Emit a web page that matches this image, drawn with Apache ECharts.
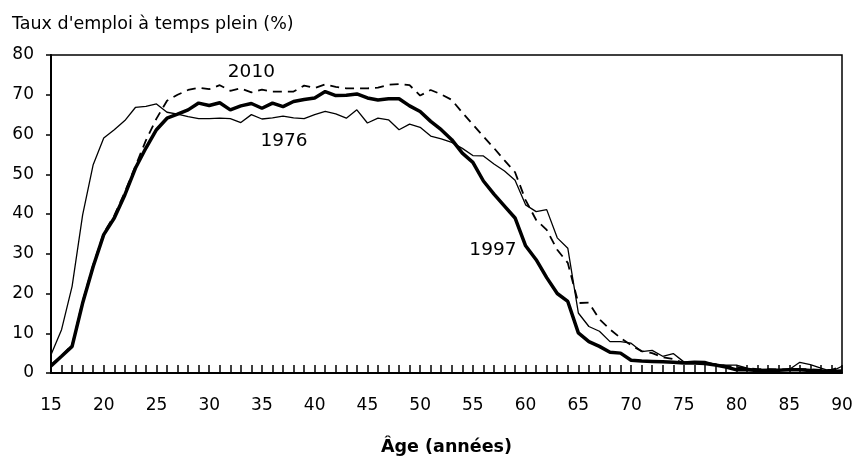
<!DOCTYPE html>
<html>
<head>
<meta charset="utf-8">
<title>Taux d'emploi à temps plein</title>
<script src="https://cdn.jsdelivr.net/npm/echarts@6/dist/echarts.min.js"></script>
<style>
  html, body { margin: 0; padding: 0; background: #fff; }
  #main { width: 858px; height: 459px; }
</style>
</head>
<body>
<div id="main"></div>
<script>
// âges 15 à 90
var ages = [];
for (var a = 15; a <= 90; a++) ages.push(a);

// taux d'emploi à temps plein (%)
var data1976 = [
  4.6, 10.9, 21.8, 39.8, 52.4, 59.1, 61.2, 63.5, 66.8, 67.1,
  67.7, 65.6, 65.1, 64.5, 64.0, 64.0, 64.1, 64.0, 63.0, 65.0,
  63.9, 64.2, 64.6, 64.2, 64.0, 65.0, 65.8, 65.2, 64.1, 66.2,
  62.9, 64.1, 63.7, 61.2, 62.6, 61.8, 59.6, 58.9, 58.0, 56.5,
  54.7, 54.6, 52.6, 50.8, 48.5, 42.3, 40.6, 41.1, 34.0, 31.4,
  15.1, 11.7, 10.5, 7.9, 7.9, 7.5, 5.4, 5.7, 4.2, 4.9,
  2.8, 3.0, 2.9, 2.1, 2.0, 2.0, 1.2, 0.8, 0.8, 0.8,
  0.9, 2.7, 2.1, 1.2, 0.4, 1.7
];
var data1997 = [
  1.8, 4.2, 6.7, 17.6, 26.8, 34.8, 39.0, 44.8, 51.5, 56.6,
  61.2, 64.1, 65.1, 66.2, 67.9, 67.3, 68.0, 66.2, 67.2, 67.8,
  66.6, 67.9, 67.0, 68.3, 68.8, 69.2, 70.8, 69.8, 69.9, 70.2,
  69.2, 68.7, 69.0, 69.0, 67.2, 65.8, 63.3, 61.2, 58.7, 55.3,
  53.0, 48.3, 45.0, 42.0, 39.0, 32.0, 28.5, 24.0, 20.0, 18.0,
  10.1, 7.9, 6.7, 5.2, 5.0, 3.2, 3.0, 2.9, 2.8, 2.7,
  2.5, 2.5, 2.4, 2.0, 1.5, 0.8, 0.8, 0.6, 0.7, 0.7,
  0.8, 0.8, 0.6, 0.5, 0.4, 0.5
];
var data2010 = [
  2.0, 4.3, 7.0, 18.0, 27.2, 35.2, 39.6, 45.5, 52.0, 58.5,
  64.0, 68.5, 70.0, 71.2, 71.8, 71.4, 72.4, 71.0, 71.6, 70.6,
  71.3, 70.8, 70.8, 70.8, 72.3, 71.7, 72.6, 72.0, 71.6, 71.6,
  71.6, 71.8, 72.5, 72.7, 72.4, 69.8, 71.2, 70.1, 68.7, 65.5,
  62.5, 59.5, 56.6, 53.5, 50.5, 43.5, 38.5, 36.0, 31.0, 27.7,
  17.6, 17.7, 13.5, 11.0, 8.8, 7.0, 5.5, 5.0, 4.0, 3.5,
  2.5, 2.5, 2.5, 2.2, 1.8, 1.5, 1.2, 1.0, 1.0, 0.9,
  0.9, 1.0, 0.9, 0.8, 0.8, 1.7
];

// étiquettes des courbes [âge, valeur]
var labels = [
  { name: "2010", coord: [34.0, 75.6] },
  { name: "1976", coord: [37.1, 58.2] },
  { name: "1997", coord: [56.9, 31.0] }
];

function pairs(vals) {
  return ages.map(function (a, i) { return [a, vals[i]]; });
}

var font = "'DejaVu Sans', sans-serif";
var chart = echarts.init(document.getElementById("main"));

var option = {
  animation: false,
  backgroundColor: "#fff",
  textStyle: { fontFamily: font, color: "#000" },
  title: {
    text: "Taux d'emploi à temps plein (%)",
    left: 7,
    top: 10,
    textStyle: { fontFamily: font, fontSize: 17.5, fontWeight: "normal", color: "#000" }
  },
  grid: {
    left: 51,
    right: 16,
    top: 55,
    bottom: 86,
    outerBoundsMode: "none",
    containLabel: false,
    show: true,
    borderColor: "#000",
    borderWidth: 1.5
  },
  xAxis: {
    type: "value",
    min: 15,
    max: 90,
    interval: 5,
    name: "Âge (années)",
    nameLocation: "middle",
    nameGap: 65,
    nameTextStyle: { fontFamily: font, fontSize: 17.5, fontWeight: "bold", color: "#000" },
    axisLine: { lineStyle: { color: "#000", width: 2 } },
    axisTick: { inside: true, length: 8, lineStyle: { color: "#000", width: 1.5 } },
    minorTick: { show: true, splitNumber: 5, length: 8, lineStyle: { color: "#000", width: 1.5 } },
    axisLabel: { fontSize: 17, color: "#000", margin: 24, fontFamily: font },
    splitLine: { show: false }
  },
  yAxis: {
    type: "value",
    min: 0,
    max: 80,
    interval: 10,
    axisLine: { show: true, lineStyle: { color: "#000", width: 2 } },
    axisTick: { show: true, length: 5, lineStyle: { color: "#000", width: 1.5 } },
    axisLabel: { fontSize: 17, color: "#000", margin: 17, fontFamily: font },
    splitLine: { show: false }
  },
  series: [
    {
      name: "1976",
      type: "line",
      data: pairs(data1976),
      symbol: "none",
      lineStyle: { color: "#000", width: 1.3 },
      z: 2
    },
    {
      name: "2010",
      type: "line",
      data: pairs(data2010),
      symbol: "none",
      lineStyle: { color: "#000", width: 1.8, type: [9, 6] },
      z: 1
    },
    {
      name: "1997",
      type: "line",
      data: pairs(data1997),
      symbol: "none",
      lineStyle: { color: "#000", width: 3.5 },
      z: 3,
      markPoint: {
        symbol: "circle",
        symbolSize: 0,
        silent: true,
        label: {
          show: true,
          position: "inside",
          formatter: "{b}",
          fontSize: 18.5,
          color: "#000",
          fontFamily: font
        },
        data: labels
      }
    }
  ]
};

chart.setOption(option);
</script>
</body>
</html>
